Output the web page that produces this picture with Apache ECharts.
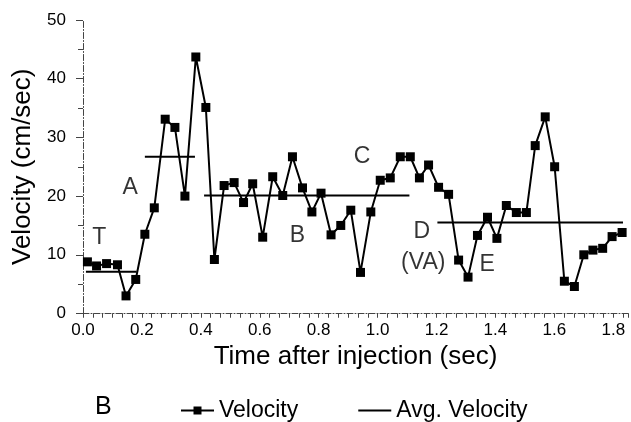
<!DOCTYPE html>
<html>
<head>
<meta charset="utf-8">
<script src="https://cdn.jsdelivr.net/npm/echarts@6/dist/echarts.min.js"></script>
<style>
  html, body { margin: 0; padding: 0; background: #fff; }
</style>
</head>
<body>
<div id="main" style="width: 631px; height: 422px;"></div>
<script>
// time (sec) of each velocity sample
const times = [
  0.015, 0.046, 0.080, 0.117, 0.146, 0.179, 0.210, 0.242, 0.279, 0.312,
  0.346, 0.383, 0.417, 0.446, 0.479, 0.513, 0.545, 0.576, 0.610, 0.644,
  0.678, 0.711, 0.745, 0.777, 0.808, 0.842, 0.875, 0.909, 0.942, 0.977,
  1.009, 1.043, 1.077, 1.111, 1.142, 1.173, 1.207, 1.241, 1.275, 1.307,
  1.339, 1.373, 1.405, 1.437, 1.471, 1.505, 1.535, 1.569, 1.601, 1.634,
  1.668, 1.700, 1.731, 1.764, 1.796, 1.830
];
// velocity (cm/sec)
const velocity = [
  8.8, 8.1, 8.5, 8.3, 3.0, 5.8, 13.5, 18.0, 33.1, 31.7,
  20.0, 43.7, 35.1, 9.2, 21.8, 22.3, 18.9, 22.1, 13.0, 23.3,
  20.1, 26.7, 21.4, 17.3, 20.5, 13.4, 15.0, 17.6, 7.0, 17.3,
  22.7, 23.1, 26.7, 26.7, 23.1, 25.3, 21.5, 20.3, 9.1, 6.2,
  13.3, 16.4, 12.8, 18.4, 17.2, 17.2, 28.6, 33.5, 25.0, 5.5,
  4.6, 10.0, 10.8, 11.1, 13.1, 13.8
];
// average velocity per phase: [start, end, value]
const avgStart = [0.010, 0.210, 0.411, 1.203];
const avgEnd   = [0.182, 0.380, 1.108, 1.833];
const avgValue = [7.1, 26.7, 20.1, 15.5];
// phase annotations
const annText = ['T', 'A', 'B', 'C', 'D', '(VA)', 'E'];
const annTime = [0.055, 0.160, 0.728, 0.947, 1.150, 1.155, 1.372];
const annVal  = [13.0, 21.4, 13.3, 26.7, 13.9, 8.6, 8.3];

const font = 'Liberation Sans, Arial, sans-serif';
const axisColor = '#444';

let chartDom = document.getElementById('main');
let myChart = echarts.init(chartDom);

let avgSeries = avgValue.map((v, i) => ({
  name: 'Avg. Velocity',
  type: 'line',
  symbol: 'none',
  lineStyle: { color: '#000', width: 2 },
  itemStyle: { color: '#000' },
  data: [[avgStart[i], v], [avgEnd[i], v]],
  z: 2
}));

// base x/y axis settings, used twice so ticks cross the axis line
function xAxisBase(inside) {
  return {
    type: 'value',
    min: 0,
    max: 1.85,
    interval: 0.2,
    axisLine: { show: !inside, lineStyle: { color: axisColor, width: 1, type: [6, 2, 1, 2] } },
    axisTick: { inside: inside, length: 4, lineStyle: { color: axisColor } },
    minorTick: { show: true, splitNumber: 6, length: 4, lineStyle: { color: axisColor } },
    splitLine: { show: false },
    axisLabel: { show: false }
  };
}
function yAxisBase(inside) {
  return {
    type: 'value',
    min: 0,
    max: 50,
    interval: 10,
    axisLine: { show: !inside, lineStyle: { color: axisColor, width: 1, type: [6, 2, 1, 2] } },
    axisTick: { show: true, inside: inside, length: 7, lineStyle: { color: axisColor } },
    minorTick: { show: true, splitNumber: 2, length: 5, lineStyle: { color: axisColor } },
    splitLine: { show: false },
    axisLabel: { show: false }
  };
}

let option = {
  animation: false,
  backgroundColor: '#fff',
  grid: { left: 83, right: 3, top: 20, bottom: 108.5 },
  title: {
    text: 'B',
    left: 90,
    top: 390,
    textStyle: { fontFamily: font, fontSize: 25, fontWeight: 'normal', color: '#000' }
  },
  legend: {
    data: [
      { name: 'Velocity' },
      { name: 'Avg. Velocity', itemStyle: { opacity: 0 } }
    ],
    left: 175,
    top: 394,
    itemWidth: 33,
    itemHeight: 10,
    itemGap: 59,
    textStyle: { fontFamily: font, fontSize: 23, color: '#000' }
  },
  xAxis: [
    Object.assign(xAxisBase(false), {
      name: 'Time after injection (sec)',
      nameLocation: 'middle',
      nameGap: 29,
      nameTextStyle: { fontFamily: font, fontSize: 26, color: '#000' },
      axisLabel: {
        showMaxLabel: false,
        fontFamily: font, fontSize: 17, color: '#000', margin: 8,
        formatter: v => v.toFixed(1)
      }
    }),
    xAxisBase(true)
  ],
  yAxis: [
    Object.assign(yAxisBase(false), {
      name: 'Velocity (cm/sec)',
      nameLocation: 'middle',
      nameGap: 39,
      nameTextStyle: { fontFamily: font, fontSize: 26, color: '#000' },
      axisLabel: {
        fontFamily: font, fontSize: 17, color: '#000', margin: 17
      }
    }),
    yAxisBase(true)
  ],
  series: [
    {
      name: 'Velocity',
      type: 'line',
      symbol: 'rect',
      symbolSize: 9,
      lineStyle: { color: '#000', width: 2 },
      itemStyle: { color: '#000' },
      data: times.map((t, i) => [t, velocity[i]]),
      z: 3
    },
    ...avgSeries,
    {
      name: 'labels',
      type: 'scatter',
      symbolSize: 0,
      silent: true,
      label: {
        show: true,
        position: 'inside',
        formatter: p => p.data[2],
        fontFamily: font,
        fontSize: 23,
        color: '#000'
      },
      data: annText.map((s, i) => [annTime[i], annVal[i], s]),
      z: 4
    }
  ]
};

option && myChart.setOption(option);
</script>
</body>
</html>
